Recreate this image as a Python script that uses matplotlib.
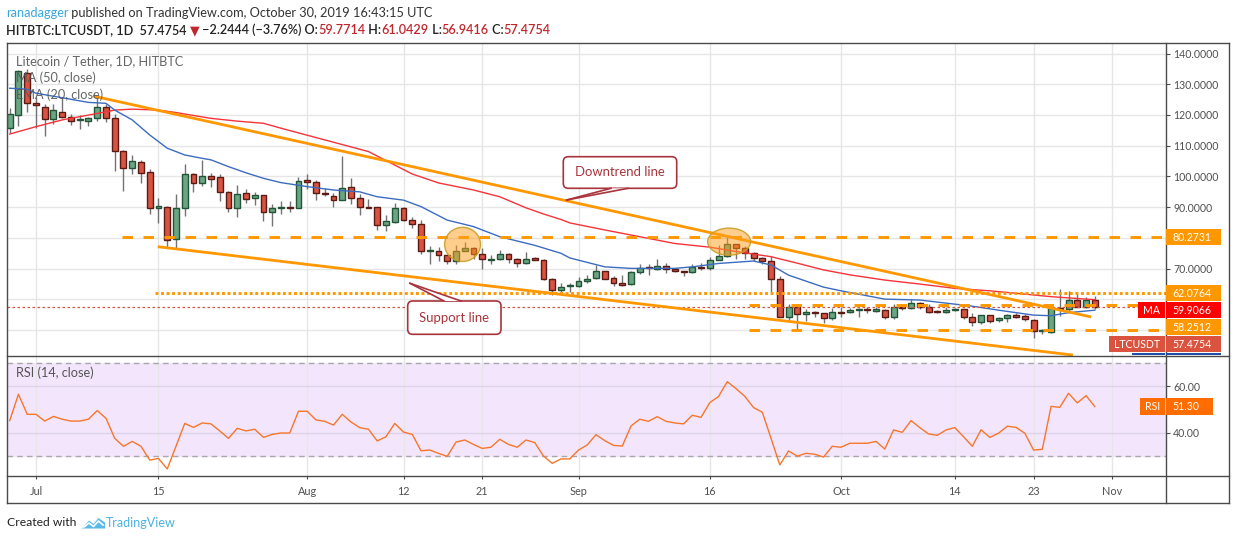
import matplotlib
matplotlib.use("Agg")
import matplotlib.pyplot as plt
import matplotlib.dates as mdates
from matplotlib.patches import Rectangle, Ellipse, FancyBboxPatch, Polygon
from matplotlib.lines import Line2D
from matplotlib.transforms import Affine2D
import numpy as np
import pandas as pd

plt.rcParams['font.family'] = ['Lato', 'DejaVu Sans']

# ---------------- data ----------------
candle_dates = pd.date_range("2019-06-28", "2019-10-30", freq="D")

opens = [115.9, 119.9, 133.6,
         123.8, 122.7, 118.6, 121.1, 119.5, 118.5, 118.1, 119.1, 122.7, 119.1, 108.3, 102.9, 104.7, 101.4, 89.6, 90.1,
         79.5, 89.8, 100.9, 98.0, 100.0, 99.7, 95.1, 89.8, 94.5, 92.9, 93.9, 88.5, 89.6, 90.1, 89.8,
         98.7, 98.3, 94.7, 93.8, 92.4, 96.5, 92.9, 90.2, 90.0, 84.1, 85.1, 89.8, 85.7, 84.7, 75.6, 75.9,
         74.3, 72.4, 75.9, 76.8, 74.9, 72.9, 73.0, 74.9, 73.0, 71.7, 73.4, 72.8, 66.6, 63.2, 64.3,
         64.4, 66.0, 67.1, 69.2, 67.1, 65.2, 64.9, 68.8, 70.3, 69.8, 70.8, 69.9, 69.2, 68.8, 70.3,
         70.1, 72.8, 74.1, 78.0, 76.6, 75.2, 73.4, 72.5, 66.5, 54.4, 57.4, 55.1, 55.8, 55.5, 53.8,
         56.0, 55.8, 56.5, 56.7, 56.3, 56.7, 54.4, 57.4, 57.1, 59.0, 57.4, 55.9, 55.8, 56.5, 56.9,
         54.4, 52.5, 54.9, 53.3, 53.8, 54.9, 54.6, 53.3, 49.7, 49.5, 57.3, 56.8, 59.8, 57.6, 59.7714]
highs = [122.2, 134.6, 134.8,
         125.7, 123.7, 123.7, 125.7, 120.2, 120.0, 119.5, 125.4, 123.5, 120.2, 108.5, 106.9, 105.3, 102.3, 93.1, 90.4,
         94.2, 104.2, 101.2, 105.5, 101.2, 100.7, 95.3, 97.1, 95.9, 94.8, 94.1, 90.9, 92.0, 92.0, 99.8,
         100.7, 99.0, 96.3, 94.6, 106.6, 99.4, 94.2, 92.6, 90.2, 87.4, 91.3, 90.0, 86.8, 86.0, 77.4, 77.0,
         74.5, 77.7, 78.7, 77.0, 76.8, 74.4, 76.0, 75.0, 73.6, 75.4, 73.9, 73.3, 66.9, 65.2, 65.2,
         67.2, 68.0, 71.2, 69.3, 67.6, 67.9, 69.2, 71.5, 71.5, 73.0, 71.7, 70.1, 69.3, 71.5, 71.7,
         73.7, 77.7, 80.4, 78.1, 77.4, 75.5, 73.9, 74.1, 67.6, 58.5, 57.8, 56.9, 56.2, 55.6, 57.1,
         57.6, 57.1, 57.1, 57.6, 57.4, 56.8, 58.5, 58.4, 60.0, 59.1, 58.5, 56.5, 57.6, 57.1, 57.0,
         55.5, 54.9, 55.0, 54.3, 55.4, 55.6, 55.2, 53.6, 50.4, 58.5, 63.3, 62.8, 62.4, 60.7, 61.0429]
lows = [114.2, 116.4, 121.1,
        115.9, 113.2, 117.0, 118.9, 116.6, 115.6, 116.5, 118.1, 117.8, 101.8, 95.3, 100.9, 98.0, 87.9, 85.0, 76.8,
        76.8, 87.1, 95.0, 96.9, 96.6, 92.0, 88.5, 86.8, 91.5, 90.8, 85.5, 83.9, 87.7, 88.3, 89.6,
        95.8, 92.2, 93.6, 90.1, 92.4, 91.1, 87.4, 89.6, 82.5, 82.4, 85.0, 85.5, 83.3, 74.8, 71.4, 72.4,
        71.6, 71.4, 75.7, 73.0, 70.0, 71.5, 72.8, 71.7, 70.6, 71.6, 72.8, 66.4, 61.6, 62.1, 62.5,
        63.9, 65.2, 66.8, 66.5, 64.4, 64.4, 64.8, 68.2, 67.9, 69.6, 68.7, 69.0, 67.6, 68.5, 69.6,
        69.6, 72.7, 73.9, 73.0, 73.0, 72.6, 71.4, 62.5, 54.3, 53.3, 50.0, 53.1, 54.2, 52.4, 53.3,
        54.4, 55.5, 54.2, 55.5, 56.0, 53.5, 53.5, 56.5, 57.0, 57.0, 55.7, 55.5, 55.6, 56.3, 53.5,
        51.4, 51.9, 52.4, 52.8, 52.8, 54.1, 53.1, 47.5, 48.7, 49.2, 54.6, 55.5, 57.5, 57.3, 56.9416]
closes = [120.2, 134.3, 123.8,
          123.2, 118.6, 121.5, 119.5, 118.1, 118.7, 119.1, 122.7, 118.9, 108.3, 102.9, 105.0, 101.2, 89.6, 90.3, 79.2,
          89.9, 100.7, 98.0, 100.0, 99.3, 95.1, 89.8, 94.2, 92.8, 93.9, 88.5, 89.6, 90.1, 89.8, 98.5,
          98.3, 94.5, 94.2, 92.4, 96.1, 92.9, 90.2, 89.8, 84.1, 85.4, 89.6, 85.7, 84.6, 75.7, 76.0, 74.3,
          72.4, 75.9, 76.8, 74.9, 73.0, 73.0, 74.9, 73.0, 71.7, 73.3, 72.8, 66.6, 63.2, 64.1, 64.4,
          66.0, 66.8, 69.2, 66.7, 65.2, 64.7, 68.8, 70.3, 70.1, 70.9, 69.8, 69.2, 68.8, 70.4, 70.1,
          72.8, 74.1, 78.0, 76.6, 75.0, 73.4, 72.5, 66.5, 54.4, 57.4, 55.1, 55.8, 55.5, 53.8, 56.0,
          55.7, 56.5, 56.7, 56.5, 56.9, 54.4, 57.4, 57.1, 59.0, 57.4, 55.8, 55.8, 56.5, 56.9, 54.4,
          52.5, 54.9, 53.1, 54.0, 54.9, 54.4, 53.5, 49.7, 49.9, 57.1, 56.8, 59.8, 57.6, 59.7714, 57.4754]

ma50_dates = ["2019-06-28", "2019-07-01", "2019-07-04", "2019-07-08", "2019-07-10", "2019-07-12", "2019-07-15",
              "2019-07-17", "2019-07-21", "2019-07-24", "2019-07-27", "2019-07-29", "2019-08-03", "2019-08-08",
              "2019-08-11", "2019-08-13", "2019-08-16", "2019-08-20", "2019-08-23", "2019-08-26", "2019-08-28",
              "2019-08-30", "2019-08-31", "2019-09-04", "2019-09-08", "2019-09-12", "2019-09-16", "2019-09-19",
              "2019-09-23", "2019-09-26", "2019-09-29", "2019-10-02", "2019-10-06", "2019-10-10", "2019-10-14",
              "2019-10-18", "2019-10-21", "2019-10-25", "2019-10-30"]
ma50_values = [113.8, 116.2, 118.4, 120.5, 121.6, 121.9, 121.6, 120.8, 118.9, 118.0, 117.3, 115.7, 111.9, 108.1,
               103.7, 100.8, 97.9, 95.6, 93.4, 89.8, 87.8, 86.0, 84.9, 82.6, 80.4, 78.2, 77.0, 75.6, 73.9, 71.8,
               69.6, 68.0, 66.3, 65.0, 63.6, 62.8, 62.0, 60.9, 59.9066]

ema20_dates = ["2019-06-28", "2019-06-30", "2019-07-01", "2019-07-04", "2019-07-07", "2019-07-09", "2019-07-10",
               "2019-07-12", "2019-07-14", "2019-07-16", "2019-07-18", "2019-07-20", "2019-07-21", "2019-07-23",
               "2019-07-25", "2019-07-27", "2019-07-29", "2019-08-01", "2019-08-04", "2019-08-07", "2019-08-09",
               "2019-08-12", "2019-08-14", "2019-08-17", "2019-08-20", "2019-08-23", "2019-08-27", "2019-08-30",
               "2019-08-31", "2019-09-04", "2019-09-07", "2019-09-12", "2019-09-14", "2019-09-17", "2019-09-21",
               "2019-09-23", "2019-09-25", "2019-09-29", "2019-10-01", "2019-10-06", "2019-10-10", "2019-10-16",
               "2019-10-19", "2019-10-23", "2019-10-25", "2019-10-27", "2019-10-30"]
ema20_values = [128.7, 128.4, 127.1, 125.6, 124.1, 123.8, 121.6, 118.4, 113.5, 109.2, 107.0, 105.9, 105.4, 103.2,
                101.2, 99.4, 98.0, 96.7, 95.6, 95.0, 93.4, 92.3, 90.2, 85.8, 83.7, 80.4, 77.6, 75.0, 73.5, 70.6,
                70.1, 70.1, 70.6, 71.7, 72.5, 71.2, 67.9, 64.0, 62.8, 60.1, 59.8, 57.8, 56.5, 54.9, 54.7, 55.7, 56.5]

rsi_values = [45.3, 56.6, 48.0,
              48.0, 45.1, 47.1, 45.9, 45.1, 45.1, 45.9, 49.6, 46.3, 37.7, 34.3, 36.4, 34.3, 28.4, 29.1, 24.6,
              34.3, 44.1, 42.4, 44.3, 43.9, 40.9, 37.7, 42.0, 40.9, 41.6, 38.1, 39.4, 40.0, 40.0, 49.3,
              49.3, 45.6, 45.0, 43.4, 48.0, 44.7, 42.3, 41.6, 36.6, 38.4, 44.1, 40.4, 39.4, 32.4, 32.7, 31.3,
              30.0, 36.1, 37.0, 35.1, 33.4, 33.9, 37.3, 35.1, 33.9, 37.0, 35.9, 30.1, 27.0, 28.9, 28.9,
              32.7, 34.9, 39.3, 36.7, 34.7, 34.4, 43.0, 45.9, 45.0, 47.0, 45.0, 44.3, 43.9, 47.6, 46.7,
              53.0, 55.6, 62.0, 59.0, 55.7, 50.9, 48.9, 37.7, 26.3, 32.3, 30.1, 31.3, 30.9, 29.7, 34.3,
              33.9, 35.6, 35.6, 35.6, 36.4, 33.1, 41.3, 40.3, 45.3, 42.3, 39.6, 39.0, 41.3, 42.3, 38.4,
              34.3, 41.4, 38.1, 39.9, 42.9, 42.4, 39.9, 32.7, 33.0, 51.4, 51.0, 57.0, 52.9, 56.0, 51.3]

level_values = [80.2731, 62.0764, 58.2512, 50.01]
level_starts = ["2019-07-10 19:00", "2019-07-14 14:00", "2019-09-20 12:00", "2019-09-20 12:00"]
level_kinds = ["dashed", "dotted", "dashed", "dashed"]

downtrend_dates = ["2019-07-07 12:00", "2019-10-29 14:00"]
downtrend_prices = [126.2, 54.3]
support_dates = ["2019-07-14 22:00", "2019-10-27 12:00"]
support_prices = [77.15, 41.9]

highlight_dates = ["2019-08-18 18:00", "2019-09-18 05:00"]
highlight_prices = [77.9, 78.8]

tick_dates = ["2019-07-01", "2019-07-15", "2019-08-01", "2019-08-12", "2019-08-21", "2019-09-01",
              "2019-09-16", "2019-10-01", "2019-10-14", "2019-10-23", "2019-11-01"]
tick_labels = ["Jul", "15", "Aug", "12", "21", "Sep", "16", "Oct", "14", "23", "Nov"]
price_ticks = [50, 60, 70, 80, 90, 100, 110, 120, 130, 140]
hidden_price_ticks = [50, 60, 80]   # covered by the level labels on the scale
rsi_ticks = [40, 60]

# ---------------- colours ----------------
UP, UP_EDGE = "#6ba583", "#225437"
DN, DN_EDGE = "#d75442", "#5b1a13"
WICK = "#737375"
ORANGE = "#ff9800"
FRAME = "#4a4a4a"
GRID = "#e6e6e6"
CALLOUT = "#a8343c"

W, H = 1234, 540
fig = plt.figure(figsize=(W / 100, H / 100), dpi=100)
PX = Affine2D().scale(1, -1).translate(0, H)   # pixel coords, origin top-left
R = fig.canvas.get_renderer()


def pane(top, bottom, left=7, right=1165.7):
    return fig.add_axes([left / W, 1 - bottom / H, (right - left) / W, (bottom - top) / H])


def width_px(s, size, weight="normal"):
    t = fig.text(0, 0, s + "|", fontsize=size, fontweight=weight)
    w = t.get_window_extent(R).width
    t.set_text("|")
    w -= t.get_window_extent(R).width
    t.remove()
    return w


def fit(s, target, weight="normal"):
    return 10 * target / width_px(s, 10, weight)


def put(x, y, s, size, color, weight="normal", ha="left", **kw):
    return fig.text(x, y, s, transform=PX, fontsize=size, color=color, fontweight=weight,
                    ha=ha, va="center", **kw)


def put_row(x, y, parts, size, weight="normal"):
    for s, col in parts:
        put(x, y, s, size, col, weight)
        x += width_px(s, size, weight)


ax = pane(43, 355.5)
axr = pane(355.5, 476)

jul1 = mdates.date2num(pd.Timestamp("2019-07-01"))
x0, x1 = jul1 - 3.31, jul1 + 129.1
xt = mdates.date2num(pd.to_datetime(tick_dates))
tick_size = fit("140.0000", 45)

for a in (ax, axr):
    a.set_xlim(x0, x1)
    for s in a.spines.values():
        s.set_visible(False)
    a.yaxis.tick_right()
    a.tick_params(axis="y", length=3, width=0.8, color=FRAME, pad=2.5,
                  labelsize=tick_size, labelcolor="#505050")
    a.set_xticks(xt)
    a.grid(True, axis="x", color=GRID, lw=1)
    a.set_axisbelow(True)

# ---------------- price pane ----------------
ax.set_ylim(41.76, 143.42)
ax.set_yticks(price_ticks)
ax.set_yticklabels(["" if v in hidden_price_ticks else f"{v:.4f}" for v in price_ticks])
ax.grid(True, axis="y", color=GRID, lw=1)
ax.tick_params(axis="x", length=0, labelbottom=False)

xc = mdates.date2num(candle_dates)
o, h, l, c = map(np.array, (opens, highs, lows, closes))
up = c >= o
ax.vlines(xc, l, h, color=WICK, lw=1, zorder=2)
ax.bar(xc, np.maximum(np.abs(c - o), 0.3), bottom=np.minimum(o, c), width=0.68,
       color=np.where(up, UP, DN), edgecolor=np.where(up, UP_EDGE, DN_EDGE), linewidth=1, zorder=3)

ax.plot(mdates.date2num(pd.to_datetime(ma50_dates)), ma50_values, color="#f7333a", lw=1, zorder=4)
ax.plot(mdates.date2num(pd.to_datetime(ema20_dates)), ema20_values, color="#3c6cc0", lw=1, zorder=4)

# last price line
ax.axhline(closes[-1], color="#d75442", lw=0.9, ls=(0, (2, 2)), zorder=4)

# horizontal levels
for v, start, kind in zip(level_values, level_starts, level_kinds):
    ls = (0, (3.6, 3.6)) if kind == "dashed" else (0, (1, 0.9))
    ax.plot([mdates.date2num(pd.Timestamp(start)), x1], [v, v], color=ORANGE, lw=2.1, ls=ls, zorder=5)

# trend lines
for d, p in ((downtrend_dates, downtrend_prices), (support_dates, support_prices)):
    ax.plot(mdates.date2num(pd.to_datetime(d)), p, color=ORANGE, lw=2, zorder=5, solid_capstyle="butt")

# highlight ellipses
for d, p, (ew, eh) in zip(highlight_dates, highlight_prices, [(4.1, 11.1), (4.9, 8.8)]):
    ax.add_patch(Ellipse((mdates.date2num(pd.Timestamp(d)), p), ew, eh, fc=(1.0, 0.62, 0.1, 0.5),
                         ec=(0.78, 0.62, 0.15, 0.9), lw=1, zorder=6))

# ---------------- RSI pane ----------------
axr.set_ylim(21.58, 73.19)
axr.axhspan(30, 70, color="#f3e6fc", zorder=0)
axr.set_yticks(rsi_ticks)
axr.set_yticklabels([f"{v:.2f}" for v in rsi_ticks])
axr.grid(True, axis="y", color="#ddd2e8", lw=1)
for v in (30, 70):
    axr.axhline(v, color="#a8a8a8", lw=1, ls=(0, (4, 3)), zorder=1)
axr.plot(xc, rsi_values, color="#f7762a", lw=1, zorder=3)
axr.set_xticklabels(tick_labels)
axr.tick_params(axis="x", length=2.5, width=0.8, color=FRAME, pad=5,
                labelsize=fit("Aug", 19), labelcolor="#505050")

# ---------------- frame ----------------
for (xa, ya, xb, yb) in [(7, 43, 1228.5, 43), (7, 503.3, 1228.5, 503.3), (7, 43, 7, 503.3),
                         (1228.5, 43, 1228.5, 503.3), (1165.7, 43, 1165.7, 503.3),
                         (7, 355.5, 1228.5, 355.5), (7, 476, 1228.5, 476)]:
    fig.add_artist(Line2D([xa, xb], [ya, yb], transform=PX, color=FRAME, lw=1))

# ---------------- price labels on the right scale ----------------
def ypx(axis, v):
    return H - axis.transData.transform((x0, v))[1]

clip = Rectangle((7, 43.5), 1222, 311.5, transform=PX)
labels = [("80.2731", 80.2731, ORANGE, None), ("62.0764", 62.0764, ORANGE, None),
          ("59.9066", ma50_values[-1], "#ff0000", "MA"), ("58.2512", 58.2512, ORANGE, None),
          ("57.4754", closes[-1], "#d9533f", "LTCUSDT"), ("", ema20_values[-1], "#1f4fa6", "EMA")]
bh = 16.6
prev_bottom = 0
for txt, v, col, tag in labels:
    cy = max(ypx(ax, v), prev_bottom + bh / 2 + 0.4)
    prev_bottom = cy + bh / 2
    p = Rectangle((1165.7, cy - bh / 2), 55.3, bh, transform=PX, fc=col, ec="none", zorder=3)
    p.set_clip_path(clip)
    fig.add_artist(p)
    if txt:
        put(1172.5, cy, txt, tick_size, "white")
    if tag:
        tw = width_px(tag, tick_size) + 10
        q = Rectangle((1165.2 - tw, cy - bh / 2), tw, bh, transform=PX, fc=col, ec="none", zorder=3)
        q.set_clip_path(clip)
        fig.add_artist(q)
        if txt:
            put(1165.2 - tw / 2, cy, tag, tick_size, "white", ha="center")

cy = ypx(axr, rsi_values[-1])
fig.add_artist(Rectangle((1165.7, cy - bh / 2), 47.5, bh, transform=PX, fc="#ff6d00", ec="none", zorder=3))
fig.add_artist(Rectangle((1139.8, cy - bh / 2), 25.4, bh, transform=PX, fc="#ff6d00", ec="none", zorder=3))
put(1172.5, cy, f"{rsi_values[-1]:.2f}", tick_size, "white")
put(1152.5, cy, "RSI", tick_size, "white", ha="center")

# ---------------- callouts ----------------
def callout(box, base, tip, text, tsize):
    bx0, by0, bx1, by1 = box
    fig.add_artist(FancyBboxPatch((bx0, by0), bx1 - bx0, by1 - by0, transform=PX,
                                  boxstyle="round,pad=0,rounding_size=5", fc="white", ec=CALLOUT, lw=1.2, zorder=4))
    fig.add_artist(Polygon([base[0], tip, base[1]], closed=True, transform=PX, fc="white", ec="none", zorder=4))
    for b in base:
        fig.add_artist(Line2D([b[0], tip[0]], [b[1], tip[1]], transform=PX, color=CALLOUT, lw=1.2, zorder=5))
    t = put((bx0 + bx1) / 2, (by0 + by1) / 2, text, tsize, CALLOUT, ha="center")
    t.set_zorder(6)

csize = fit("Downtrend line", 90)
callout((563.3, 156.7, 676.7, 188.3), [(611, 188.3), (628, 188.3)], (566.7, 200), "Downtrend line", csize)
callout((407.7, 301, 501, 334.3), [(444, 301), (461, 301)], (410, 283.3), "Support line", csize)

# ---------------- texts ----------------
s1 = fit("ranadagger published on TradingView.com, October 30, 2019 16:43:15 UTC", 429)
put_row(6, 13.3, [("ranadagger", "#3aa7dc"),
                  (" published on TradingView.com, October 30, 2019 16:43:15 UTC", "#333333")], s1)
red = "#c0272d"
line2 = [("HITBTC:LTCUSDT, 1D  57.4754 ", "#222222"), ("▼", red), (" −2.2444 (−3.76%) O:", "#222222"),
         ("59.7714", red), (" H:", "#222222"), ("61.0429", red), (" L:", "#222222"), ("56.9416", red),
         (" C:", "#222222"), ("57.4754", red)]
s2 = fit("".join(p[0] for p in line2), 542, "semibold")
put_row(6, 30, line2, s2, "semibold")

ls_ = fit("Litecoin / Tether, 1D, HITBTC", 169)
put(16, 61, "Litecoin / Tether, 1D, HITBTC", ls_, "#555555", alpha=0.9)
put(16, 78, "MA (50, close)", ls_, "#555555", alpha=0.9)
put(16, 94.5, "EMA (20, close)", ls_, "#555555", alpha=0.9)
put(16, 372.7, "RSI (14, close)", ls_, "#555555")

fs = fit("Created with", 69.3)
put(6.7, 523, "Created with", fs, "#222222")
fig.add_artist(Polygon([(82, 528.5), (89, 520.5), (93.5, 524), (98.5, 518), (105, 522.5), (105, 528.5)],
                       closed=True, transform=PX, fc="#5bbbe8", ec="none"))
fig.add_artist(Line2D([84, 89, 93.5, 98.5, 103], [527, 523, 526.5, 521, 525], transform=PX, color="white", lw=1.2))
put(106, 523, "TradingView", fit("TradingView", 70), "#49b2e3")

fig.savefig("out.png", dpi=100, facecolor="white")
